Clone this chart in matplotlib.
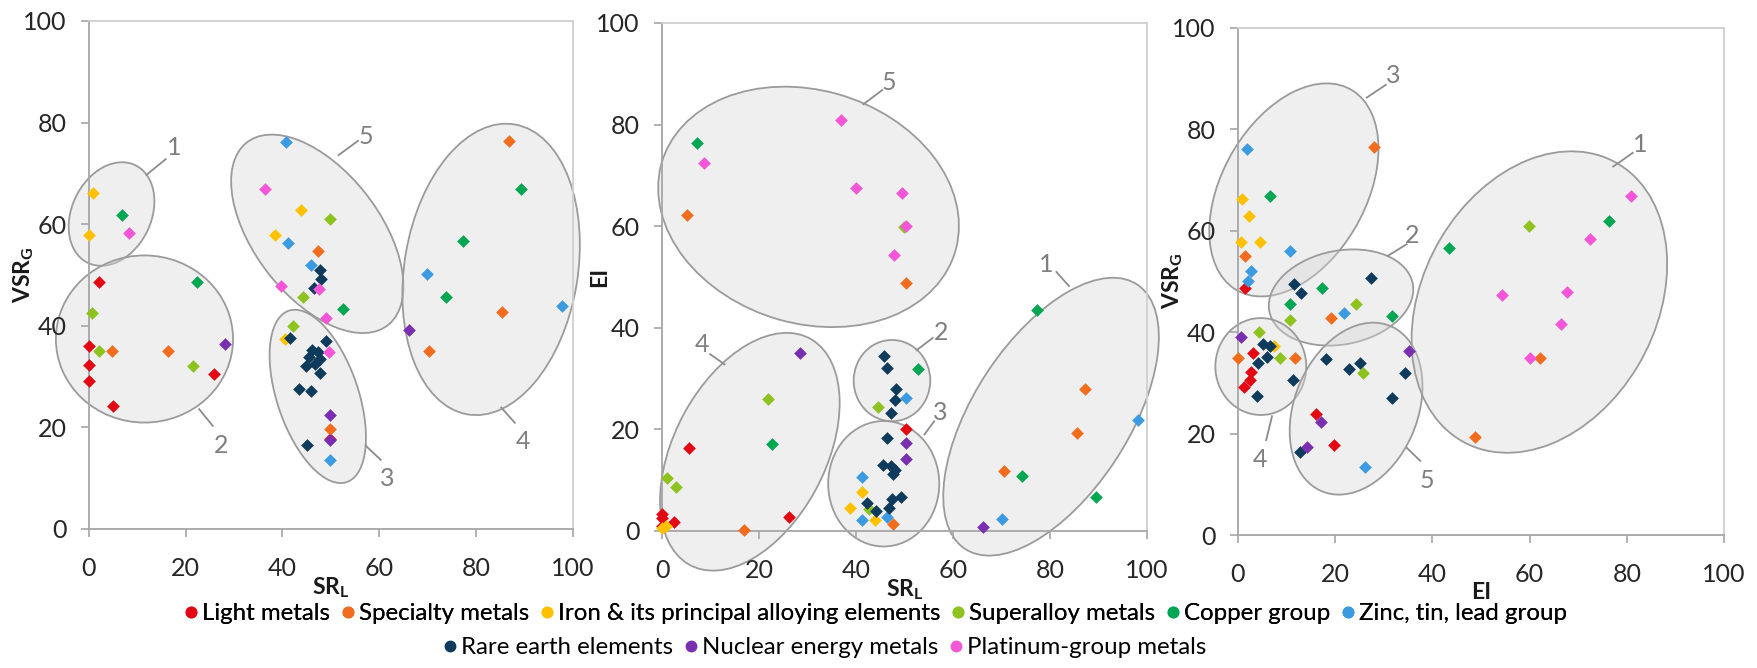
import matplotlib.pyplot as plt
from matplotlib.patches import Ellipse
from matplotlib.lines import Line2D

plt.rcParams['font.family'] = ['Lato', 'DejaVu Sans']
plt.rcParams['mathtext.fontset'] = 'custom'
plt.rcParams['mathtext.rm'] = 'Lato'
plt.rcParams['mathtext.bf'] = 'Lato:bold'

groups = ['Light metals', 'Specialty metals', 'Iron & its principal alloying elements',
          'Superalloy metals', 'Copper group', 'Zinc, tin, lead group',
          'Rare earth elements', 'Nuclear energy metals', 'Platinum-group metals']
colors = ['#E30613', '#F26C1E', '#FFC000', '#8DC21F', '#00A651', '#3C9BE0',
          '#0E3A5B', '#7A2FB0', '#F356D6']

# panel a: SR_L (x) vs VSR_G (y)
a_light = [(0, 36), (0, 32.2), (0, 29.1), (2.2, 48.6), (5.1, 24.2), (25.9, 30.5), (49.8, 17.8)]
a_special = [(4.7, 35), (16.3, 35), (47.3, 54.8), (86.7, 76.4), (85.4, 42.8), (70.2, 35), (49.8, 19.7)]
a_iron = [(0.9, 66.1), (0, 57.8), (43.8, 62.7), (38.4, 57.8), (40.6, 37.3)]
a_super = [(0.6, 42.5), (2.2, 35), (21.6, 32.1), (49.8, 61), (44.3, 45.6), (42.2, 40)]
a_copper = [(6.8, 61.8), (22.3, 48.6), (52.6, 43.3), (77.3, 56.6), (73.8, 45.6), (89.2, 66.9)]
a_zinc = [(40.7, 76.1), (41.1, 56.2), (46, 52), (69.9, 50.1), (97.8, 43.8), (49.8, 13.6)]
a_rare = [(47.8, 51), (48, 49.2), (46.6, 47.4), (41.6, 37.6), (48.9, 37.1), (46.1, 35.3),
          (47.3, 34.8), (45.5, 33.8), (47.7, 33.4), (46.8, 32.5), (44.9, 32), (47.7, 30.8),
          (43.5, 27.5), (45.9, 27.1), (45, 16.5)]
a_nuclear = [(28.2, 36.4), (66.2, 39.1), (49.8, 22.4), (49.8, 17.5)]
a_platinum = [(8.4, 58.3), (36.4, 66.9), (39.6, 47.9), (47.5, 47.3), (49.1, 41.6), (49.7, 34.8)]

# panel b: SR_L (x) vs EI (y)
b_light = [(0, 3.3), (0, 2.5), (0, 0.9), (2.5, 1.8), (5.5, 16.4), (26.2, 2.8), (50.2, 20)]
b_special = [(5.2, 62.2), (50.2, 48.9), (87.1, 27.9), (85.6, 19.3), (70.4, 11.9), (16.8, 0.2), (47.7, 1.4)]
b_iron = [(0.9, 0.9), (0, 0.6), (38.8, 4.5), (41.2, 7.6), (44, 2.2)]
b_super = [(1.1, 10.5), (2.8, 8.6), (21.8, 25.9), (44.6, 24.5), (42.6, 4.3), (49.8, 59.9)]
b_copper = [(7.2, 76.4), (22.6, 17.1), (52.7, 31.8), (77.4, 43.5), (74.2, 10.9), (89.4, 6.6)]
b_zinc = [(98.1, 21.9), (70, 2.3), (50.2, 26.1), (41.3, 10.7), (41.2, 2.1), (46.3, 2.8)]
b_rare = [(45.7, 34.4), (46.4, 32), (48.3, 27.9), (48.1, 25.8), (47.2, 23.3), (46.4, 18.4),
          (45.6, 12.9), (47.1, 12.7), (48.1, 12), (47.6, 11.3), (42.3, 5.6), (44.2, 3.9),
          (46.8, 4.6), (47.4, 6.3), (49.3, 6.7)]
b_nuclear = [(28.4, 35), (66.2, 0.8), (50.2, 17.3), (50.2, 14.2)]
b_platinum = [(8.6, 72.4), (36.8, 80.9), (39.9, 67.6), (49.5, 66.5), (50.2, 60.1), (47.8, 54.3)]

# panel c: EI (x) vs VSR_G (y)
c_light = [(1.5, 48.7), (3, 35.8), (2.7, 32.1), (2.5, 30.5), (1.2, 29.1), (16, 23.9), (19.8, 17.8)]
c_special = [(27.9, 76.4), (1.4, 54.9), (19.1, 42.8), (0, 34.8), (11.7, 34.8), (62.1, 34.8), (48.7, 19.4)]
c_iron = [(0.9, 66.2), (2.2, 62.9), (0.6, 57.8), (4.5, 57.8), (7.5, 37.3)]
c_super = [(59.9, 60.9), (24.3, 45.5), (10.6, 42.4), (4.3, 40), (8.6, 34.8), (25.8, 32)]
c_copper = [(76.4, 61.8), (43.5, 56.6), (6.5, 66.8), (17.3, 48.6), (10.8, 45.6), (31.7, 43.1)]
c_zinc = [(1.8, 76), (10.7, 56), (2.7, 52), (2.1, 50.1), (21.9, 43.7), (26.2, 13.4)]
c_rare = [(27.4, 50.6), (11.5, 49.4), (13, 47.6), (18.1, 34.7), (22.8, 32.7), (25, 33.8),
          (34.4, 32), (31.7, 27), (11.3, 30.6), (3.9, 27.3), (12.8, 16.3), (5.2, 37.6),
          (6.6, 37.2), (5.9, 35), (4.2, 33.9)]
c_nuclear = [(0.7, 39.1), (35.1, 36.3), (17, 22.2), (14.3, 17.3)]
c_platinum = [(80.8, 66.8), (72.4, 58.3), (54.3, 47.3), (67.6, 47.9), (66.5, 41.6), (60.1, 34.8)]

# cluster ellipses: centre x, centre y, width, height, angle
a_ellipses = [(4.7, 62, 21.6, 16.2, 60), (11.5, 37.4, 36.6, 32.9, 0), (47.2, 58.1, 46.3, 25.5, -50),
              (47.3, 26.1, 35.8, 16.7, -70), (83.1, 51.1, 57.9, 35.8, 80)]
b_ellipses = [(30.2, 63.8, 63, 46, -15), (18.1, 15.6, 51, 31, 60), (47.4, 29.6, 15.8, 16, 0),
              (45.7, 9.3, 22.9, 24.7, 0), (80.2, 22.5, 63, 31.6, 55)]
c_ellipses = [(11.5, 68, 46, 29.3, 58), (21.2, 46.8, 30, 18.5, 10), (4.7, 33.2, 18.7, 19.1, 0),
              (24.3, 24.9, 35.5, 25.2, 65), (62, 45.9, 63.4, 47.7, 58)]

# cluster numbers: text, text pos, leader line start, leader line end
a_labels = [('1', (17.6, 75.1), (11.9, 69.7), (15.9, 72.8)),
            ('5', (57.2, 77.2), (51.6, 73.6), (55.6, 76.4)),
            ('2', (27.3, 16.4), (22.8, 23.6), (25.6, 20.3)),
            ('3', (61.7, 10), (57.2, 16.4), (60.3, 13.6)),
            ('4', (89.7, 17.2), (85.2, 23.9), (88, 20.9))]
b_labels = [('5', (46.8, 88.3), (41.5, 84), (45.4, 86.8)),
            ('1', (79.2, 52.5), (81.3, 51), (83.9, 48.2)),
            ('4', (8.2, 36.7), (9.9, 34.8), (12.9, 32.8)),
            ('2', (57.6, 39), (52.5, 35.6), (55.8, 38)),
            ('3', (57.3, 23.3), (54.1, 19), (56.1, 21.6))]
c_labels = [('3', (32, 90.6), (26.5, 86.2), (30.4, 88.7)),
            ('2', (35.9, 59), (30.8, 55), (34.7, 57.3)),
            ('1', (82.8, 76.9), (77.2, 72.6), (81.2, 75.3)),
            ('4', (4.6, 14.9), (7, 23.4), (5.8, 18.7)),
            ('5', (38.9, 10.8), (34.7, 17.2), (37.5, 14.6))]

panels = [
    ([a_light, a_special, a_iron, a_super, a_copper, a_zinc, a_rare, a_nuclear, a_platinum],
     a_ellipses, a_labels, r'$\mathbf{SR_L}$', r'$\mathbf{VSR_G}$', [0.0505, 0.2081, 0.2754, 0.7605]),
    ([b_light, b_special, b_iron, b_super, b_copper, b_zinc, b_rare, b_nuclear, b_platinum],
     b_ellipses, b_labels, r'$\mathbf{SR_L}$', 'EI', [0.3766, 0.2051, 0.2759, 0.7605]),
    ([c_light, c_special, c_iron, c_super, c_copper, c_zinc, c_rare, c_nuclear, c_platinum],
     c_ellipses, c_labels, 'EI', r'$\mathbf{VSR_G}$', [0.7042, 0.1991, 0.2765, 0.7597]),
]

fig = plt.figure(figsize=(17.58, 6.68), dpi=100)

for data, ells, labs, xl, yl, rect in panels:
    ax = fig.add_axes(rect)
    for cx, cy, w, h, ang in ells:
        ax.add_patch(Ellipse((cx, cy), w, h, angle=ang, facecolor=(0.84, 0.84, 0.84, 0.38),
                             edgecolor='#9b9b9b', lw=1.3, clip_on=False, zorder=1))
    for pts, col in zip(data, colors):
        ax.scatter([q[0] for q in pts], [q[1] for q in pts], marker='D', s=42, color=col,
                   linewidths=0, zorder=3, clip_on=False)
    for num, tpos, p0, p1 in labs:
        ax.plot([p0[0], p1[0]], [p0[1], p1[1]], color='#8c8c8c', lw=1.3, clip_on=False, zorder=2)
        ax.text(tpos[0], tpos[1], num, ha='center', va='center', fontsize=18, color='#7f7f7f')
    ax.set_xlim(0, 100)
    ax.set_ylim(0, 100)
    ax.set_xticks(range(0, 101, 20))
    ax.set_yticks(range(0, 101, 20))
    for side in ['top', 'right']:
        ax.spines[side].set_color('#cfcfcf')
    for side in ['left', 'bottom']:
        ax.spines[side].set_color('#a6a6a6')
    for sp in ax.spines.values():
        sp.set_linewidth(1.3)
    ax.tick_params(direction='out', length=6, width=1.2, color='#a6a6a6',
                   labelsize=18, labelcolor='#262626')
    ax.tick_params(axis='x', pad=14)
    ax.tick_params(axis='y', pad=10)
    ax.set_xlabel(xl, fontsize=16.5, fontweight='bold', color='#1a1a1a')
    ax.set_ylabel(yl, fontsize=16.5, fontweight='bold', color='#1a1a1a')
    ax.xaxis.set_label_coords(0.5, -0.092)
    ax.yaxis.set_label_coords(-0.108, 0.5)

handles = [Line2D([], [], marker='o', ls='', markersize=7.5, color=c) for c in colors]
kw = dict(frameon=False, fontsize=17.3, handlelength=0.6, handletextpad=0.15,
          columnspacing=0.45, borderaxespad=0)
leg1 = fig.legend(handles[:6], groups[:6], ncol=6, loc='center', bbox_to_anchor=(0.498, 0.081), **kw)
fig.add_artist(leg1)
fig.legend(handles[6:], groups[6:], ncol=3, loc='center', bbox_to_anchor=(0.469, 0.030), **kw)

fig.savefig('out.png', dpi=100)
